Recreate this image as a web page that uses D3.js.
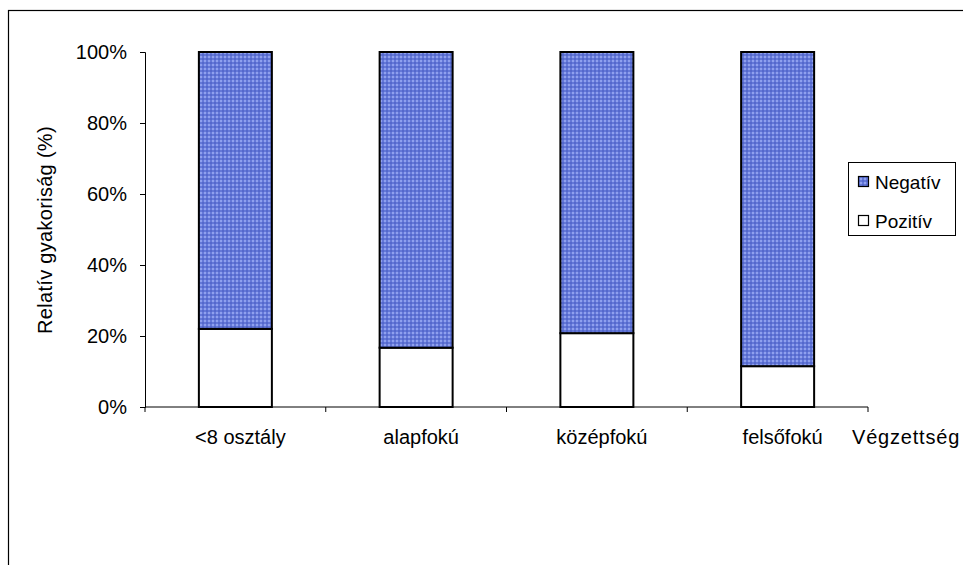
<!DOCTYPE html>
<html>
<head>
<meta charset="utf-8">
<script src="https://cdn.jsdelivr.net/npm/d3@7"></script>
<style>
  html, body { margin: 0; padding: 0; background: #fff; }
  svg { display: block; font-family: "Liberation Sans", Arial, sans-serif; }
</style>
</head>
<body>
<svg id="chart" width="963" height="565"></svg>
<script>
// Education level categories and the share of each answer (percent)
const categories = ["<8 osztály", "alapfokú", "középfokú", "felsőfokú"];
const pozitiv = [22, 16.7, 20.8, 11.5];
const negativ = pozitiv.map(v => 100 - v);
const seriesNames = ["Pozitív", "Negatív"];
const yTicks = [0, 20, 40, 60, 80, 100];

const svg = d3.select("#chart");
const fontSize = 20;

// Outer chart frame (only left and top edges fall inside the view)
svg.append("rect")
  .attr("x", 8.5).attr("y", 10.5)
  .attr("width", 1000).attr("height", 600)
  .attr("fill", "none").attr("stroke", "#000").attr("stroke-width", 1.2);

// Dotted blue fill
const defs = svg.append("defs");
const pat = defs.append("pattern")
  .attr("id", "dots").attr("patternUnits", "userSpaceOnUse")
  .attr("width", 4).attr("height", 4);
pat.append("rect").attr("width", 4).attr("height", 4).attr("fill", "#6478d8");
pat.append("rect").attr("x", 0).attr("y", 0).attr("width", 2).attr("height", 2).attr("fill", "#8fa0ee");
pat.append("rect").attr("x", 2).attr("y", 2).attr("width", 2).attr("height", 2).attr("fill", "#5468cc");

const plotLeft = 145, plotRight = 868, plotTop = 52, plotBottom = 407;
const barWidth = 73;

const xCat = d3.scaleBand().domain(categories).range([plotLeft, plotRight]);
const y = d3.scaleLinear().domain([0, 100]).range([plotBottom, plotTop]);

const data = categories.map((c, i) => ({ cat: c, "Pozitív": pozitiv[i], "Negatív": negativ[i] }));
const stack = d3.stack().keys(seriesNames)(data);
const fills = { "Pozitív": "#ffffff", "Negatív": "url(#dots)" };

svg.append("g").selectAll("g").data(stack).join("g")
  .attr("fill", d => fills[d.key])
  .selectAll("rect").data(d => d).join("rect")
  .attr("x", d => xCat(d.data.cat) + (xCat.bandwidth() - barWidth) / 2)
  .attr("width", barWidth)
  .attr("y", d => y(d[1]))
  .attr("height", d => y(d[0]) - y(d[1]))
  .attr("stroke", "#000").attr("stroke-width", 2);

// Y axis
const yAxis = svg.append("g").attr("transform", `translate(${plotLeft},0)`)
  .call(d3.axisLeft(y).tickValues(yTicks).tickFormat(d => d + "%").tickSize(5).tickPadding(13));
yAxis.select(".domain").attr("stroke", "#000");
yAxis.selectAll("text").attr("font-size", fontSize).attr("fill", "#000")
  .attr("font-family", "Liberation Sans, Arial, sans-serif");

// X axis with ticks at category boundaries
const xAxis = svg.append("g").attr("transform", `translate(0,${plotBottom})`);
xAxis.append("line").attr("x1", plotLeft).attr("x2", plotRight).attr("stroke", "#000");
const boundaries = categories.map(c => xCat(c)).concat([plotRight]);
xAxis.selectAll("line.tick").data(boundaries).join("line")
  .attr("class", "tick")
  .attr("x1", d => d).attr("x2", d => d).attr("y1", 0).attr("y2", 5)
  .attr("stroke", "#000");
xAxis.selectAll("text").data(categories).join("text")
  .attr("x", d => xCat(d) + xCat.bandwidth() / 2 + 5)
  .attr("y", 37)
  .attr("text-anchor", "middle")
  .attr("font-size", fontSize).attr("fill", "#000")
  .text(d => d);

// Axis titles
svg.append("text").attr("x", 852).attr("y", 444)
  .attr("font-size", fontSize).attr("fill", "#000")
  .attr("letter-spacing", 0.8).text("Végzettség");
svg.append("text")
  .attr("transform", "translate(52,230) rotate(-90)")
  .attr("text-anchor", "middle")
  .attr("font-size", fontSize).attr("fill", "#000")
  .attr("letter-spacing", 0.3).text("Relatív gyakoriság (%)");

// Legend
const lg = svg.append("g").attr("transform", "translate(848,162)");
lg.append("rect").attr("x", 0.5).attr("y", 0.5).attr("width", 107).attr("height", 73)
  .attr("fill", "#fff").attr("stroke", "#000");
const legendItems = ["Negatív", "Pozitív"];
legendItems.forEach((name, i) => {
  const cy = 20 + i * 39;
  lg.append("rect").attr("x", 10.5).attr("y", cy - 5.5).attr("width", 10).attr("height", 10)
    .attr("fill", fills[name]).attr("stroke", "#000").attr("stroke-width", 1.2);
  lg.append("text").attr("x", 27).attr("y", cy + 7)
    .attr("font-size", 19).attr("fill", "#000").text(name);
});
</script>
</body>
</html>
